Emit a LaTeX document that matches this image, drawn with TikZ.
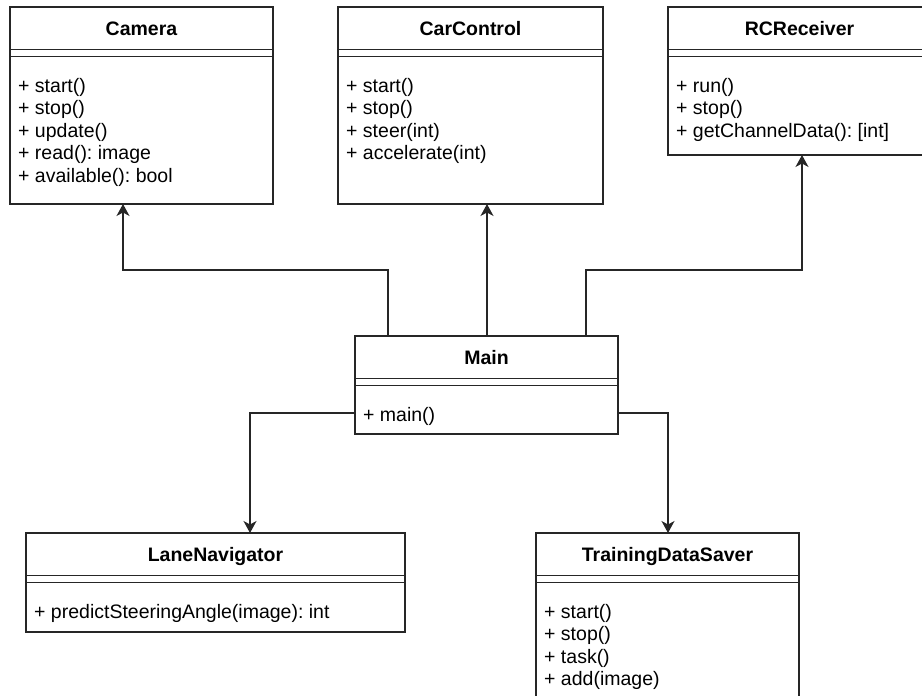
\documentclass[tikz,border=0pt]{standalone}
\usepackage{fontspec}
\setmainfont{Liberation Sans}
\frenchspacing
\usetikzlibrary{arrows.meta,calc}
\newcommand\classbox[6]{%
  \node[box, minimum width=#4pt, minimum height=#5pt] (#1) at (#2,#3) {};
  \node[ttl] (#1-t) at ($(#1.north)+(0,21.5)$) {#6};
  \draw[sep] ($(#1.north west)+(0,42.5)$) -- ($(#1.north east)+(0,42.5)$);
  \draw[sep] ($(#1.north west)+(0,49.5)$) -- ($(#1.north east)+(0,49.5)$);
}
\newcommand\methodlist[2]{%
  \foreach \m [count=\i] in {#2} {
    \node[mtd] (#1-m\i) at ($(#1.north west)+(8,80.5+22.5*\i-22.5)$) {\m};
  }
}
\begin{document}
\begin{tikzpicture}[x=1pt,y=-1pt,
  box/.style={draw=black!85, line width=1.1pt, rectangle, anchor=north west, inner sep=0pt, outer sep=0pt},
  ttl/.style={font=\fontsize{19.5}{22.5}\selectfont\bfseries, inner sep=0pt, anchor=center, text height=14pt, text depth=0pt},
  mtd/.style={font=\fontsize{19.5}{22.5}\selectfont, inner sep=0pt, anchor=west, text height=14pt, text depth=4.5pt},
  sep/.style={draw=black!85, line width=1.1pt},
  arr/.style={draw=black!85, line width=1.1pt, -{Stealth[length=12pt,width=13pt,inset=3.5pt]}}]
\useasboundingbox[fill=white] (0,0) rectangle (922,696);

\classbox{camera}{10}{7}{263}{197}{Camera}
\methodlist{camera}{+ start(),+ stop(),+ update(),+ read(): image,+ available(): bool}

\classbox{carcontrol}{338}{7}{265}{197}{CarControl}
\methodlist{carcontrol}{+ start(),+ stop(),+ steer(int),+ accelerate(int)}

\classbox{rcreceiver}{668}{7}{263}{148}{RCReceiver}
\methodlist{rcreceiver}{+ run(),+ stop(),+ getChannelData(): [int]}

\classbox{main}{355}{336}{263}{98}{Main}
\methodlist{main}{+ main()}

\classbox{lanenav}{26}{533}{379}{99}{LaneNavigator}
\methodlist{lanenav}{+ predictSteeringAngle(image): int}

\classbox{tds}{536}{533}{263}{180}{TrainingDataSaver}
\methodlist{tds}{+ start(),+ stop(),+ task(),+ add(image)}

\coordinate (e1) at (123,270);
\coordinate (e3) at (802,270);
\coordinate (e4) at (250,413);
\coordinate (e5) at (668,413);
\coordinate (mt1) at ([xshift=33pt]main.north west);
\coordinate (mt2) at ([xshift=132pt]main.north west);
\coordinate (mt3) at ([xshift=231pt]main.north west);

\draw[arr] (mt1) |- (e1) -- (camera.south -| e1);
\draw[arr] (mt2) -- (carcontrol.south -| mt2);
\draw[arr] (mt3) |- (e3) -- (rcreceiver.south -| e3);
\draw[arr] (main.west |- e4) -- (e4) -- (lanenav.north -| e4);
\draw[arr] (main.east |- e5) -- (e5) -- (tds.north -| e5);
\end{tikzpicture}
\end{document}
